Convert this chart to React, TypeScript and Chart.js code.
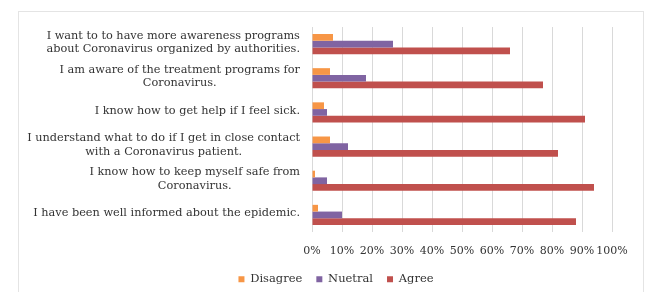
import React, { useEffect, useRef } from "react";
import { Chart, registerables } from "chart.js";

Chart.register(...registerables);

const categories: string[][] = [
  ["I want to to have more awareness programs", "about Coronavirus organized by authorities."],
  ["I am aware of the treatment programs for", "Coronavirus."],
  ["I know how to get help if I feel sick."],
  ["I understand what to do if I get in close contact", "with a Coronavirus patient."],
  ["I know how to keep myself safe from", "Coronavirus."],
  ["I have been well informed about the epidemic."],
];
const disagree = [7, 6, 4, 6, 1, 2];
const neutral = [27, 18, 5, 12, 5, 10];
const agree = [66, 77, 91, 82, 94, 88];
const seriesNames = ["Disagree", "Nuetral", "Agree"];
const seriesColors = ["#F79646", "#8064A2", "#C0504D"];

const FONT = "'DejaVu Serif', serif";
const TEXT = "#333333";

const labelPlugin = {
  id: "catLabels",
  afterDraw(chart: any) {
    const ctx = chart.ctx;
    const ys = chart.scales.y;
    ctx.save();
    ctx.font = `11.3px ${FONT}`;
    ctx.fillStyle = TEXT;
    ctx.textAlign = "center";
    ctx.textBaseline = "middle";
    const lh = 13.5;
    const right = chart.chartArea.left - 12;
    categories.forEach((lines, i) => {
      const y = ys.getPixelForValue(i);
      const w = Math.max(...lines.map((l) => ctx.measureText(l).width));
      const cx = right - w / 2;
      lines.forEach((l, j) => {
        ctx.fillText(l, cx, y - ((lines.length - 1) * lh) / 2 + j * lh - 1.5);
      });
    });
    ctx.restore();
  },
  afterLayout(chart: any) {
    const lg = chart.legend;
    if (lg) {
      lg.left += 30;
      lg.right += 30;
      lg.top += 3;
      lg.bottom += 3;
    }
  },
};

export default function App() {
  const ref = useRef<HTMLCanvasElement>(null);
  useEffect(() => {
    const chart = new Chart(ref.current!, {
      type: "bar",
      data: {
        labels: categories.map((c) => c.join(" ")),
        datasets: [disagree, neutral, agree].map((d, i) => ({
          label: seriesNames[i],
          data: d,
          backgroundColor: seriesColors[i],
          borderWidth: 0,
          categoryPercentage: 0.59,
          barPercentage: 1,
        })),
      },
      options: {
        indexAxis: "y",
        animation: false,
        responsive: false,
        layout: { padding: { top: 27, right: 42, left: 0, bottom: 0 } },
        scales: {
          x: {
            min: 0,
            max: 100,
            ticks: {
              stepSize: 10,
              autoSkip: false,
              maxRotation: 0,
              padding: 13,
              color: TEXT,
              font: { family: FONT, size: 11 },
              callback: (v: any) => v + "%",
            },
            grid: { color: "#d9d9d9", drawTicks: false },
            border: { display: false },
            afterFit: (s: any) => {
              s.height = 24.5;
            },
          },
          y: {
            ticks: { display: false },
            grid: { display: false },
            border: { display: false },
            afterFit: (s: any) => {
              s.width = 312;
            },
          },
        },
        plugins: {
          legend: {
            position: "bottom",
            labels: {
              boxWidth: 6,
              boxHeight: 6,
              padding: 14,
              color: TEXT,
              font: { family: FONT, size: 11.5 },
            },
          },
          tooltip: { enabled: false },
        },
      },
      plugins: [labelPlugin],
    });
    return () => chart.destroy();
  }, []);
  return (
    <div style={{ position: "fixed", left: 0, top: 0, width: 654, height: 292, background: "#fff" }}>
      <div
        style={{
          position: "absolute",
          left: 18,
          top: 11,
          width: 624,
          height: 300,
          border: "1px solid #e4e4e4",
        }}
      />
      <canvas ref={ref} width={654} height={292} style={{ position: "absolute", left: 0, top: 0 }} />
    </div>
  );
}
